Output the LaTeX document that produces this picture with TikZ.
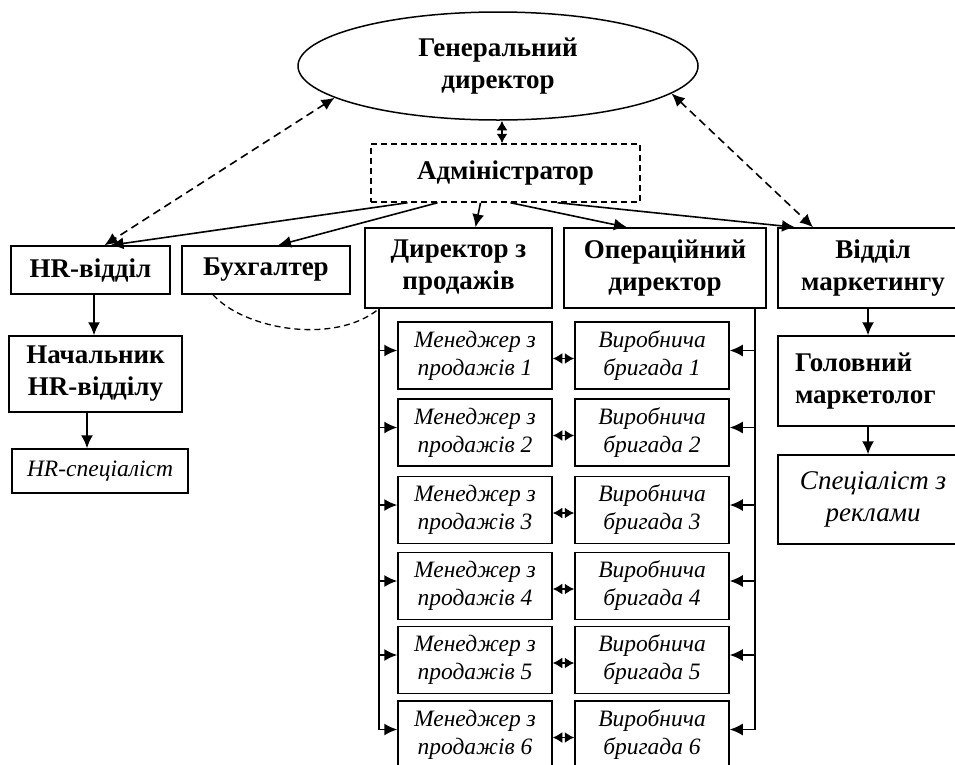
\documentclass[tikz,border=0pt]{standalone}
\usepackage{fontspec}
\setmainfont{Liberation Serif}
\usetikzlibrary{shapes.geometric,arrows.meta,calc}
\begin{document}
\begin{tikzpicture}[x=1pt,y=-1pt,
  box/.style={draw, line width=1.5pt, inner sep=0pt, align=center},
  bt/.style={font=\fontsize{27}{32}\selectfont\bfseries},
  it/.style={font=\fontsize{23.5}{28}\selectfont\itshape},
  itb/.style={font=\fontsize{27}{32}\selectfont\itshape},
  mbox/.style={box, it, minimum width=154pt, minimum height=67pt},
  ln/.style={line width=1.6pt},
  arr/.style={line width=1.6pt, -{Latex[length=13pt,width=12pt]}},
  darr/.style={line width=1.6pt, {Latex[length=9.5pt,width=11pt]}-{Latex[length=9.5pt,width=11pt]}},
  dsharr/.style={line width=1.6pt, dash pattern=on 8pt off 5pt, {Latex[length=13pt,width=12pt]}-{Latex[length=13pt,width=12pt]}},
]
\useasboundingbox (0,0) rectangle (955,764);
\clip (0,0) rectangle (955,764);

% nodes
\node[box, bt, ellipse, minimum width=400pt, minimum height=108pt] (gen) at (498,66) {Генеральний\\директор};
\node[box, bt, dash pattern=on 6pt off 4pt, minimum width=269pt, minimum height=58pt] (adm) at (505.5,173) {Адміністратор};
\node[box, bt, minimum width=159pt, minimum height=48pt] (hr) at (90.5,270) {HR-відділ};
\node[box, bt, minimum width=168pt, minimum height=48pt] (buh) at (266,270) {Бухгалтер};
\node[box, bt, minimum width=187pt, minimum height=80pt] (ds) at (458.5,268) {Директор з\\продажів};
\node[box, bt, minimum width=202pt, minimum height=80pt] (op) at (665,268) {Операційний\\директор};
\node[box, bt, minimum width=190pt, minimum height=80pt] (mk) at (873,268) {Відділ\\маркетингу};
\node[box, bt, minimum width=173pt, minimum height=76pt] (nach) at (95.5,374) {Начальник\\HR-відділу};
\node[box, it, minimum width=176pt, minimum height=44pt] (hrs) at (100,471) {HR-спеціаліст};
\node[box, bt, align=left, minimum width=190pt, minimum height=90pt, text width=156pt] (gm) at (873,381) {Головний\\маркетолог};
\node[box, itb, minimum width=190pt, minimum height=89pt] (sp) at (873,499.5) {Спеціаліст з\\реклами};

\foreach \i/\y in {1/355.5, 2/432.5, 3/510, 4/586, 5/660, 6/734.5}{
  \node[mbox] (m\i) at (475,\y) {Менеджер з\\продажів \i};
  \node[mbox] (b\i) at (652,\y) {Виробнича\\бригада \i};
  \draw[darr] ($(m\i.east)+(0,3)$) -- ($(b\i.west)+(0,3)$);
}

% buses
\coordinate (lb) at (379,0);
\coordinate (rb) at (755,0);
\draw[ln] (ds.south -| lb) -- ($(m6.west -| lb)+(0,-5)$);
\draw[ln] (op.south -| rb) -- ($(b6.east -| rb)+(0,-5)$);
\foreach \i in {1,...,6}{
  \draw[arr] ($(m\i.west -| lb)+(0,-5)$) -- ($(m\i.west)+(0,-5)$);
  \draw[arr] ($(b\i.east -| rb)+(0,-5)$) -- ($(b\i.east)+(0,-5)$);
}

% top connectors
\draw[darr] ($(gen.south)+(4,0)$) -- ($(adm.north)+(-3.5,0)$);
\draw[dsharr] (gen.191) -- ($(hr.north)+(14,0)$);
\draw[dsharr] (gen.351) -- ($(mk.north)+(-60,0)$);
\draw[arr] ($(adm.south)+(-98,0)$) -- ($(hr.north)+(20,0)$);
\draw[arr] ($(adm.south)+(-68,0)$) -- ($(buh.north)+(12,0)$);
\draw[arr] ($(adm.south)+(-25,0)$) -- ($(ds.north)+(17,0)$);
\draw[arr] ($(adm.south)+(5,0)$) -- ($(op.north)+(-38,0)$);
\draw[arr] ($(adm.south)+(52,0)$) -- ($(mk.north)+(-78,0)$);

% left and right chains
\draw[arr] ($(hr.south)+(3.5,0)$) -- ($(nach.north)+(-1.5,0)$);
\draw[arr] ($(nach.south)+(-8.5,0)$) -- ($(hrs.north)+(-13,0)$);
\draw[arr] ($(mk.south)+(-5,0)$) -- ($(gm.north)+(-5,0)$);
\draw[arr] ($(gm.south)+(-5,0)$) -- ($(sp.north)+(-5,0)$);

% dashed curve
\draw[line width=1.3pt, dash pattern=on 6pt off 4pt] ($(buh.south)+(-53,0)$) .. controls (245,330) and (335,345) .. (ds.south -| lb);
\end{tikzpicture}
\end{document}
